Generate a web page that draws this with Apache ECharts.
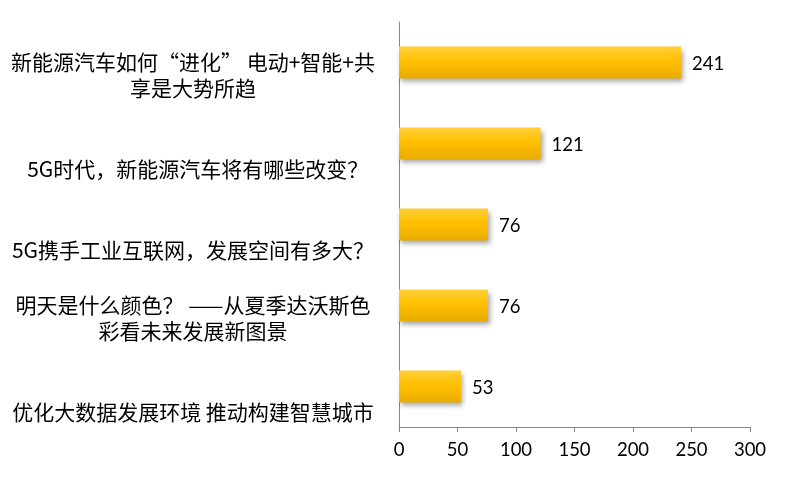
<!DOCTYPE html>
<html>
<head>
<meta charset="utf-8">
<script src="https://cdn.jsdelivr.net/npm/echarts@6/dist/echarts.min.js"></script>
<style>
html,body{margin:0;padding:0;background:#fff;}
#chart{width:790px;height:480px;}
</style>
</head>
<body>
<div id="chart"></div>
<script>
// Categories, top to bottom (line breaks as in the reference)
const categories = [
  "新能源汽车如何“进化” 电动+智能+共\n享是大势所趋",
  "  5G时代，新能源汽车将有哪些改变？",
  "5G携手工业互联网，发展空间有多大？",
  "明天是什么颜色？ ——从夏季达沃斯色\n彩看未来发展新图景",
  "优化大数据发展环境 推动构建智慧城市"
];
const values = [241, 121, 76, 76, 53];
const xTicks = { min: 0, max: 300, interval: 50 };

const chart = echarts.init(document.getElementById('chart'));
chart.setOption({
  animation: false,
  backgroundColor: '#ffffff',
  grid: { left: 399, right: 40, top: 22, bottom: 53, containLabel: false },
  xAxis: {
    type: 'value',
    min: xTicks.min, max: xTicks.max, interval: xTicks.interval,
    axisLine: { show: true, lineStyle: { color: '#868686', width: 1 } },
    axisTick: { show: true, length: 5, lineStyle: { color: '#868686' } },
    splitLine: { show: false },
    axisLabel: { color: '#000', fontSize: 18.5, fontFamily: 'Lato, "Noto Sans", sans-serif', margin: 14 }
  },
  yAxis: {
    type: 'category',
    inverse: true,
    data: categories,
    axisLine: { show: true, lineStyle: { color: '#868686', width: 1 } },
    axisTick: { show: false },
    axisLabel: {
      color: '#000',
      fontSize: 21,
      lineHeight: 26,
      fontFamily: '"Noto Sans CJK SC", sans-serif',
      align: 'center',
      margin: 206,
      formatter: function (v) {
        const n = v.split('\n').length;
        let pad = '';
        for (let i = n; i < 3; i++) pad += '\n';
        return pad + v;
      }
    }
  },
  series: [{
    type: 'bar',
    data: values,
    barWidth: 32,
    itemStyle: {
      color: new echarts.graphic.LinearGradient(0, 0, 0, 1, [
        { offset: 0, color: '#FFCF3A' },
        { offset: 0.45, color: '#FFC000' },
        { offset: 1, color: '#E9AC00' }
      ]),
      shadowColor: 'rgba(0,0,0,0.35)',
      shadowBlur: 5,
      shadowOffsetX: 2,
      shadowOffsetY: 3
    },
    label: {
      show: true,
      position: 'right',
      distance: 11,
      offset: [0, 2],
      color: '#000',
      fontSize: 18.5,
      fontFamily: 'Lato, "Noto Sans", sans-serif'
    }
  }]
});
</script>
</body>
</html>
